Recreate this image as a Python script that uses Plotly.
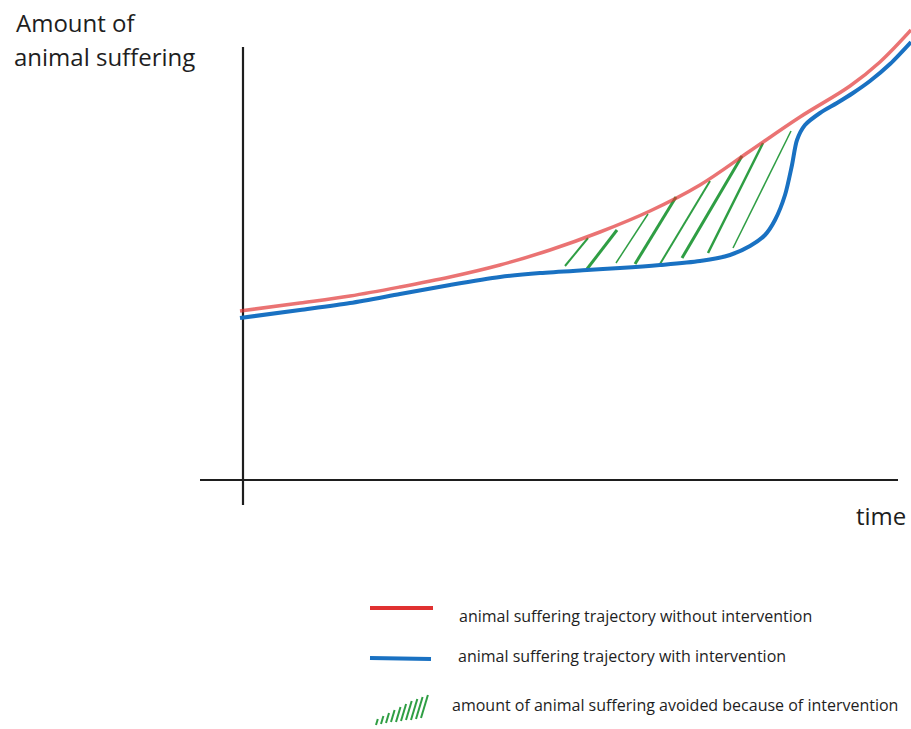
import plotly.graph_objects as go

# ---- data (time, amount of suffering) in chart units ----
time_without = [-3, 57, 107, 157, 207, 257, 307, 357, 407, 457, 507, 557, 607, 637, 668]
suffering_without = [169, 177, 184, 193, 203, 215, 230, 248, 269, 295, 329, 363, 394, 418, 450]

time_with = [-3, 57, 107, 157, 207, 257, 297, 344, 377, 417, 457, 487, 507, 522, 532, 542, 549, 554, 562, 577, 594, 610, 627, 647, 668]
suffering_with = [162, 170, 177, 186, 195, 203, 207, 210, 212, 215, 219, 225, 234, 245, 260, 285, 315, 340, 355, 367, 377, 387, 399, 416, 438]

# hatch strokes: start/end of each stroke (time, suffering)
hatch_t0 = [322, 344, 373, 392, 417, 439, 465, 490]
hatch_s0 = [214, 211, 217, 216, 216, 222, 227, 232]
hatch_t1 = [345, 374, 405, 433, 467, 499, 520, 548]
hatch_s1 = [242, 250, 266, 283, 299, 324, 337, 349]
hatch_w = [2, 3, 1.5, 3, 2, 3, 2.5, 1.5]

axis_x_extent = [-43, 655]   # horizontal axis line (time)
axis_y_extent = [-25, 433]   # vertical axis line (suffering)

y_title = ["Amount of", "animal suffering"]
x_title = "time"
legend_labels = [
    "animal suffering trajectory without intervention",
    "animal suffering trajectory with intervention",
    "amount of animal suffering avoided because of intervention",
]

RED = "#e03131"
RED_SOFT = "rgba(224,49,49,0.68)"
BLUE = "#1971c2"
GREEN = "#2f9e44"
INK = "#1e1e1e"
FONT = "Open Sans"

W, H = 911, 729

fig = go.Figure()

# axes
fig.add_trace(go.Scatter(x=axis_x_extent, y=[0, 0], mode="lines",
                         line=dict(color=INK, width=2.2), hoverinfo="skip"))
fig.add_trace(go.Scatter(x=[0, 0], y=axis_y_extent, mode="lines",
                         line=dict(color=INK, width=2.2), hoverinfo="skip"))

# hatching
for t0, s0, t1, s1, w in zip(hatch_t0, hatch_s0, hatch_t1, hatch_s1, hatch_w):
    fig.add_trace(go.Scatter(x=[t0, t1], y=[s0, s1], mode="lines",
                             line=dict(color=GREEN, width=w), hoverinfo="skip"))

# curves
fig.add_trace(go.Scatter(x=time_without, y=suffering_without, mode="lines",
                         line=dict(color=RED_SOFT, width=3.5, shape="spline", smoothing=1.0),
                         name=legend_labels[0]))
fig.add_trace(go.Scatter(x=time_with, y=suffering_with, mode="lines",
                         line=dict(color=BLUE, width=4, shape="spline", smoothing=0.8),
                         name=legend_labels[1]))

# pixel -> paper helpers (for the drawn legend and titles)
def px(x):
    return x / W

def py(y):
    return 1 - y / H

shapes = [
    dict(type="line", xref="paper", yref="paper", x0=px(370), y0=py(608), x1=px(433), y1=py(608),
         line=dict(color=RED, width=4)),
    dict(type="line", xref="paper", yref="paper", x0=px(370), y0=py(658), x1=px(431), y1=py(659),
         line=dict(color=BLUE, width=4)),
]
# hand-drawn hatch icon for legend
icon_bottom_x = [376, 381, 386, 391, 396, 401, 406, 411, 416, 421]
icon_bottom_y = [725, 724, 723, 722, 722, 721, 720, 720, 719, 718]
icon_top_y = [719, 716, 713, 710, 707, 704, 701, 699, 697, 695]
for bx, by, ty in zip(icon_bottom_x, icon_bottom_y, icon_top_y):
    shapes.append(dict(type="line", xref="paper", yref="paper",
                       x0=px(bx), y0=py(by), x1=px(bx + (by - ty) * 0.3), y1=py(ty),
                       line=dict(color=GREEN, width=2)))

annotations = [
    dict(text=y_title[0], x=px(14), y=py(22), xanchor="left", yanchor="middle",
         font=dict(size=24, color=INK, family=FONT)),
    dict(text=y_title[1], x=px(12), y=py(57), xanchor="left", yanchor="middle",
         font=dict(size=24, color=INK, family=FONT)),
    dict(text=x_title, x=px(881), y=py(515), xanchor="center", yanchor="middle",
         font=dict(size=24, color=INK, family=FONT)),
    dict(text=legend_labels[0], x=px(457), y=py(616), xanchor="left", yanchor="middle",
         font=dict(size=16, color=INK, family=FONT)),
    dict(text=legend_labels[1], x=px(456), y=py(656), xanchor="left", yanchor="middle",
         font=dict(size=16, color=INK, family=FONT)),
    dict(text=legend_labels[2], x=px(450), y=py(705), xanchor="left", yanchor="middle",
         font=dict(size=16, color=INK, family=FONT)),
]
for a in annotations:
    a.update(xref="paper", yref="paper", showarrow=False)

fig.update_layout(
    width=W, height=H,
    margin=dict(l=0, r=0, t=0, b=0),
    paper_bgcolor="white", plot_bgcolor="white",
    showlegend=False,
    shapes=shapes,
    annotations=annotations,
    xaxis=dict(range=[-243, 668], visible=False, fixedrange=True),
    yaxis=dict(range=[-249, 480], visible=False, fixedrange=True),
)

fig.write_html(
    "out.html",
    config={"displayModeBar": False},
    post_script="document.body.style.margin='0';document.body.style.overflow='hidden';",
)
